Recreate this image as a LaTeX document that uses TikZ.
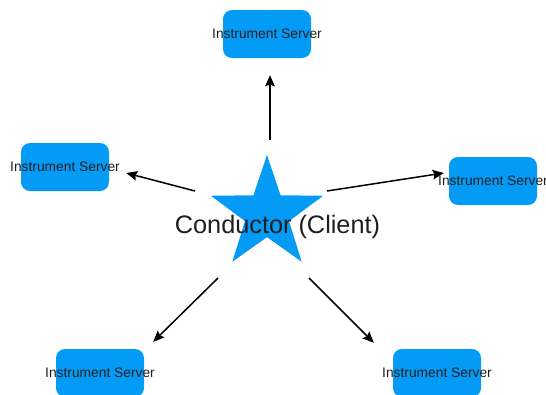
\documentclass[tikz,border=0pt]{standalone}
\usepackage{fontspec}
\setmainfont{Liberation Sans}
\usetikzlibrary{shapes.geometric,arrows.meta}
\definecolor{boxblue}{RGB}{3,155,245}
\definecolor{txt}{RGB}{30,30,30}
\tikzset{
  srvbox/.style={rounded corners=9pt, fill=boxblue, draw=none, minimum width=88pt, minimum height=48pt, inner sep=0pt,
    text=txt, font=\fontsize{13.8}{16}\selectfont},
  arr/.style={draw=black, line width=1.5pt, -{Stealth[length=11pt,width=9.5pt,inset=1.5pt]}},
}
\begin{document}
\begin{tikzpicture}[x=1pt,y=-1pt]
\useasboundingbox (0,0) rectangle (546,394);
% star
\node[star, star points=5, star point ratio=2.55, minimum size=118pt, inner sep=0pt, fill=boxblue, draw=none] (S) at (267,214) {};
\node[anchor=base, inner sep=0pt, text=txt, font=\fontsize{25.3}{30}\selectfont] (C) at (277.5,233) {Conductor (Client)};
% servers
\node[srvbox] (T) at (267,34) {\makebox[0pt]{Instrument Server}};
\node[srvbox] (L) at (65,167) {\makebox[0pt]{Instrument Server}};
\node[srvbox] (R) at (493,181) {\makebox[0pt]{Instrument Server}};
\node[srvbox] (BL) at (100,373) {\makebox[0pt]{Instrument Server}};
\node[srvbox] (BR) at (437,373) {\makebox[0pt]{Instrument Server}};
% arrow tails
\coordinate (a1) at (270,140);
\coordinate (a2) at (195,191);
\coordinate (a3) at (327,191);
\coordinate (a4) at (218,278);
\coordinate (a5) at (309,278);
\draw[arr, shorten >=17pt] (a1) -- (a1 |- T.south);
\draw[arr] (a2) -- ([xshift=17pt,yshift=-6pt]L.east);
\draw[arr] (a3) -- ([xshift=-5pt,yshift=8pt]R.west);
\draw[arr] (a4) -- ([xshift=9pt,yshift=7pt]BL.north east);
\draw[arr] (a5) -- ([xshift=-19pt,yshift=6pt]BR.north west);
\end{tikzpicture}
\end{document}
